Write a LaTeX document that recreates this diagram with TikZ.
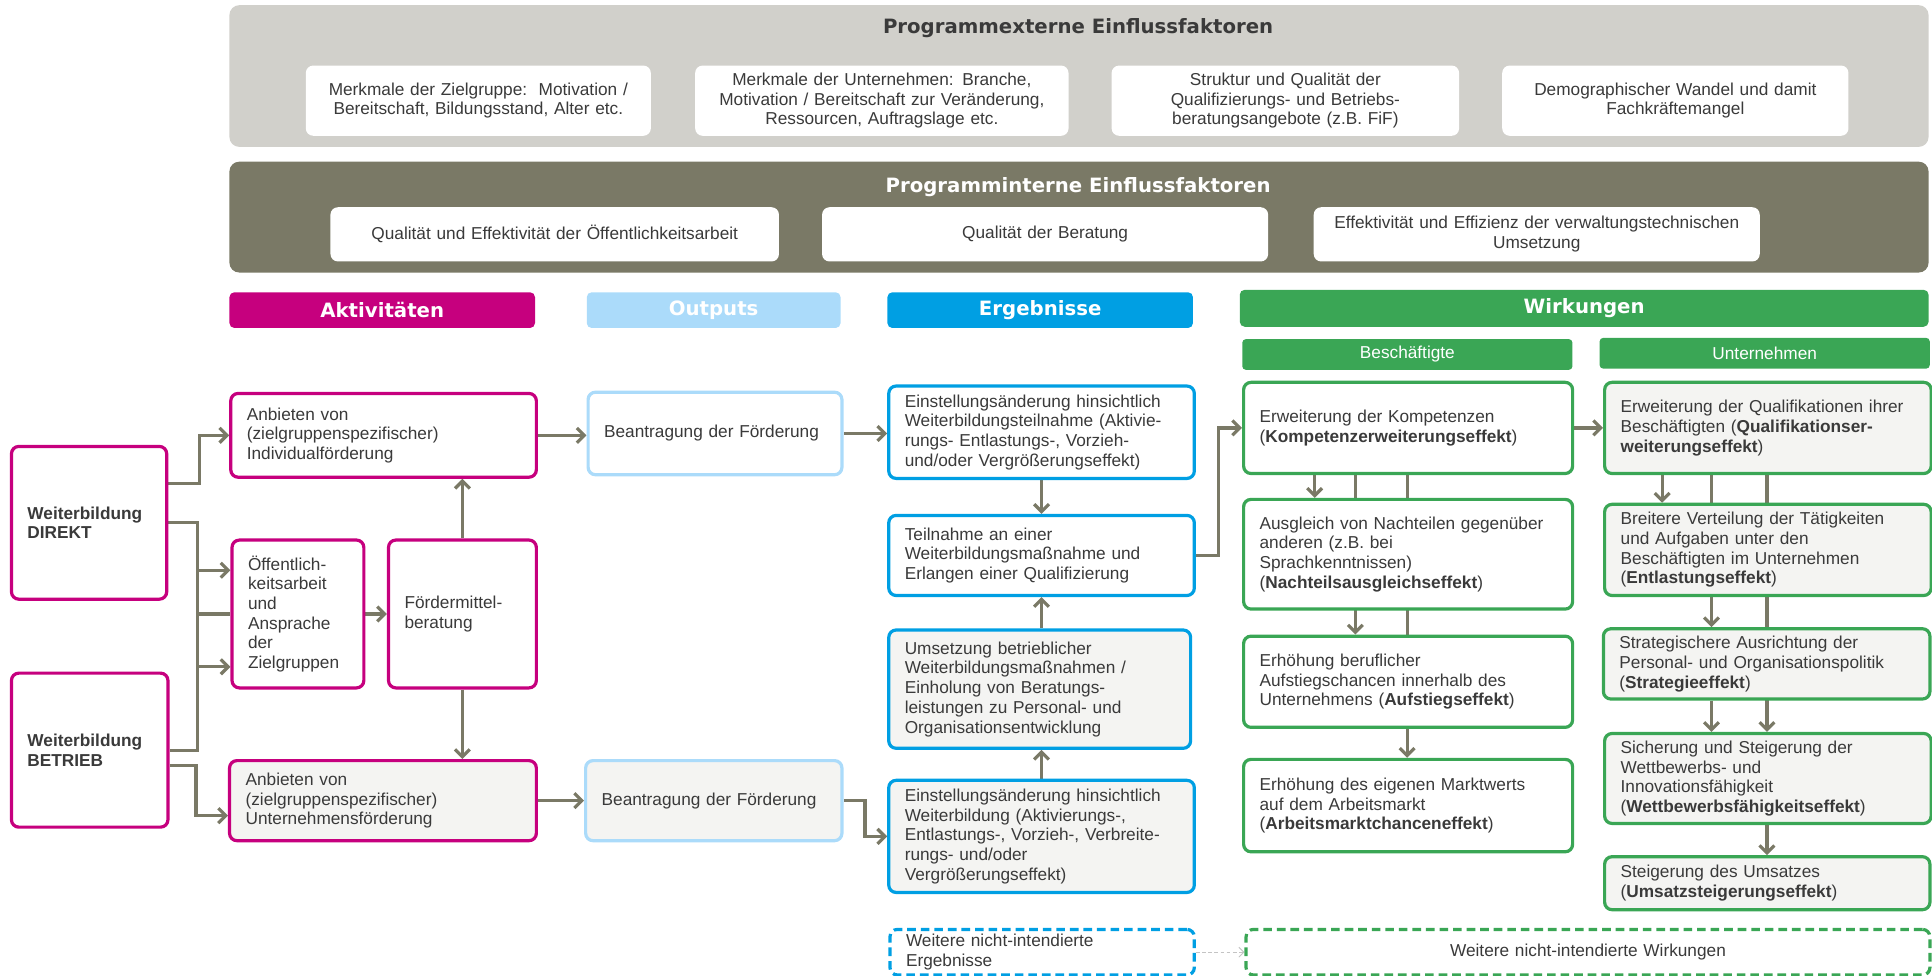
\documentclass[tikz,border=0pt]{standalone}
\usepackage{fontspec}
\setmainfont{Liberation Sans}
\newfontfamily\hdfont{DejaVu Sans}
\usetikzlibrary{arrows.meta,calc,backgrounds}
\definecolor{txt}{HTML}{3A3A3A}
\definecolor{mag}{HTML}{C6007E}
\definecolor{lblue}{HTML}{ABDBFA}
\definecolor{blu}{HTML}{009FE3}
\definecolor{grn}{HTML}{3AA655}
\definecolor{olv}{HTML}{7A7966}
\definecolor{bandA}{HTML}{D1D0CB}
\definecolor{lfill}{HTML}{F4F4F2}
\definecolor{dgray}{HTML}{C4C4C4}
\newcommand{\bx}[7]{%
  \pgfmathsetmacro{\myw}{#5-#3}%
  \pgfmathsetmacro{\myh}{#6-#4}%
  \pgfmathsetmacro{\mytw}{#5-#3-26}%
  \node[#2, anchor=north west, inner xsep=13pt, inner ysep=0pt, minimum width=\myw pt, minimum height=\myh pt, text width=\mytw pt] (#1) at (#3,#4) {#7};}
\tikzset{
  body/.style={font=\fontsize{14}{16}\selectfont, text=txt},
  bx/.style={body, draw, rounded corners=6pt, line width=2.6pt, fill=white, align=left},
  magbox/.style={bx, draw=mag},
  magboxg/.style={bx, draw=mag, fill=lfill},
  obox/.style={bx, draw=lblue},
  oboxg/.style={bx, draw=lblue, fill=lfill},
  ebox/.style={bx, draw=blu},
  eboxg/.style={bx, draw=blu, fill=lfill},
  wbox/.style={bx, draw=grn},
  wboxg/.style={bx, draw=grn, fill=lfill},
  dashbox/.style={bx, draw=#1, dash pattern=on 7pt off 4pt},
  wbox0/.style={body, fill=white, rounded corners=6pt, align=center},
  band/.style={fill=#1, rounded corners=8pt},
  hdr/.style={fill=#1, rounded corners=4pt, text=white, font=\hdfont\bfseries\fontsize{16}{18}\selectfont, align=center},
  subhdr/.style={fill=grn, rounded corners=3pt, text=white, font=\fontsize{14}{16}\selectfont, align=center},
  ttl/.style={font=\hdfont\bfseries\fontsize{16}{18}\selectfont, inner sep=0pt},
  arr/.style={draw=olv, line width=2.6pt, -{Straight Barb[length=6pt,width=12pt]}},
  ln/.style={draw=olv, line width=2.6pt},
  dasharr/.style={draw=dgray, line width=0.8pt, dash pattern=on 3pt off 2pt, -{Straight Barb[length=4pt,width=8pt]}},
}
\begin{document}
\begin{tikzpicture}[x=1pt,y=-1pt]
\useasboundingbox (0,0) rectangle (1568,792);
% external factors
\bx{ext}{band=bandA}{186}{4}{1565}{119}{}
\node[ttl, text=txt] (extT) at (875,23) {Programmexterne Einflussfaktoren};
\bx{b1}{wbox0}{248}{53}{528}{110}{Merkmale der Zielgruppe:\ \ Motivation /\\Bereitschaft, Bildungsstand, Alter etc.}
\bx{b2}{wbox0}{564}{53}{867}{110}{Merkmale der Unternehmen: Branche,\\Motivation / Bereitschaft zur Veränderung,\\Ressourcen, Auftragslage etc.}
\bx{b3}{wbox0}{902}{53}{1184}{110}{Struktur und Qualität der\\Qualifizierungs- und Betriebs-\\beratungsangebote (z.B. FiF)}
\bx{b4}{wbox0}{1219}{53}{1500}{110}{Demographischer Wandel und damit\\Fachkräftemangel}
% internal factors
\bx{int}{band=olv}{186}{131}{1565}{221}{}
\node[ttl, text=white] (intT) at (875,152) {Programminterne Einflussfaktoren};
\bx{c1}{wbox0}{268}{168}{632}{212}{Qualität und Effektivität der Öffentlichkeitsarbeit}
\bx{c2}{wbox0}{667}{168}{1029}{212}{Qualität der Beratung}
\bx{c3}{wbox0}{1066}{168}{1428}{212}{Effektivität und Effizienz der verwaltungstechnischen\\Umsetzung}
% headers
\bx{hA}{hdr=mag}{186}{237}{434}{266}{Aktivitäten}
\bx{hO}{hdr=lblue}{476}{237}{682}{266}{Outputs}
\bx{hE}{hdr=blu}{720}{237}{968}{266}{Ergebnisse}
\bx{hW}{hdr=grn}{1006}{235}{1565}{265}{Wirkungen}
\bx{hB}{subhdr}{1008}{275}{1276}{300}{Beschäftigte}
\bx{hU}{subhdr}{1298}{274}{1566}{299}{Unternehmen}
% left
\bx{DIR}{magbox}{8}{361}{134}{485}{\textbf{Weiterbildung}\\\textbf{DIREKT}}
\bx{BET}{magbox}{8}{545}{135}{670}{\textbf{Weiterbildung}\\\textbf{BETRIEB}}
% activities
\bx{A1}{magbox}{186}{318}{434}{386}{Anbieten von\\(zielgruppenspezifischer)\\Individualförderung}
\bx{A2}{magbox}{187}{437}{294}{557}{Öffentlich-\\keitsarbeit\\und\\Ansprache\\der\\Zielgruppen}
\bx{A3}{magbox}{314}{437}{434}{557}{Fördermittel-\\beratung}
\bx{A4}{magboxg}{185}{616}{434}{681}{Anbieten von\\(zielgruppenspezifischer)\\Unternehmensförderung}
% outputs
\bx{O1}{obox}{476}{317}{682}{384}{Beantragung der Förderung}
\bx{O2}{oboxg}{474}{616}{682}{681}{Beantragung der Förderung}
% results
\bx{E1}{ebox}{720}{312}{968}{387}{Einstellungsänderung hinsichtlich\\Weiterbildungsteilnahme (Aktivie-\\rungs- Entlastungs-, Vorzieh-\\und/oder Vergrößerungseffekt)}
\bx{E2}{ebox}{720}{417}{968}{482}{Teilnahme an einer\\Weiterbildungsmaßnahme und\\Erlangen einer Qualifizierung}
\bx{E3}{eboxg}{720}{510}{965}{606}{Umsetzung betrieblicher\\Weiterbildungsmaßnahmen /\\Einholung von Beratungs-\\leistungen zu Personal- und\\Organisationsentwicklung}
\bx{E4}{eboxg}{720}{632}{968}{723}{Einstellungsänderung hinsichtlich\\Weiterbildung (Aktivierungs-,\\Entlastungs-, Vorzieh-, Verbreite-\\rungs- und/oder\\Vergrößerungseffekt)}
\bx{E5}{dashbox=blu}{721}{753}{968}{790}{Weitere nicht-intendierte\\Ergebnisse}
% impacts - employees
\bx{W1}{wbox}{1008}{309}{1275}{383}{Erweiterung der Kompetenzen\\(\textbf{Kompetenzerweiterungseffekt})}
\bx{W2}{wbox}{1008}{404}{1275}{493}{Ausgleich von Nachteilen gegenüber\\anderen (z.B. bei\\Sprachkenntnissen)\\(\textbf{Nachteilsausgleichseffekt})}
\bx{W3}{wbox}{1008}{515}{1275}{589}{Erhöhung beruflicher\\Aufstiegschancen innerhalb des\\Unternehmens (\textbf{Aufstiegseffekt})}
\bx{W4}{wbox}{1008}{615}{1275}{690}{Erhöhung des eigenen Marktwerts\\auf dem Arbeitsmarkt\\(\textbf{Arbeitsmarktchanceneffekt})}
\bx{W5}{dashbox=grn, align=center}{1010}{753}{1565}{790}{Weitere nicht-intendierte Wirkungen}
% impacts - companies
\bx{U1}{wboxg}{1301}{309}{1566}{383}{Erweiterung der Qualifikationen ihrer\\Beschäftigten (\textbf{Qualifikationser-}\\\textbf{weiterungseffekt})}
\bx{U2}{wboxg}{1301}{408}{1566}{482}{Breitere Verteilung der Tätigkeiten\\und Aufgaben unter den\\Beschäftigten im Unternehmen\\(\textbf{Entlastungseffekt})}
\bx{U3}{wboxg}{1300}{509}{1565}{566}{Strategischere Ausrichtung der\\Personal- und Organisationspolitik\\(\textbf{Strategieeffekt})}
\bx{U4}{wboxg}{1301}{594}{1566}{667}{Sicherung und Steigerung der\\Wettbewerbs- und\\Innovationsfähigkeit\\(\textbf{Wettbewerbsfähigkeitseffekt})}
\bx{U5}{wboxg}{1301}{694}{1565}{737}{Steigerung des Umsatzes\\(\textbf{Umsatzsteigerungseffekt})}
% helper coordinates
\coordinate (bus) at (160,0);
\coordinate (busA) at (162,0);
\coordinate (busB) at (159,0);
\coordinate (oe) at (702,0);
\coordinate (ew) at (989,0);
\coordinate (wa) at (1067,0);
\coordinate (wb) at (1100,0);
\coordinate (wc) at (1142,0);
\coordinate (ua) at (1349,0);
\coordinate (ub) at (1389,0);
\coordinate (uc) at (1434,0);
\coordinate (dirA) at ($(DIR.north east)!0.25!(DIR.south east)$);
\coordinate (betB) at ($(BET.north east)!0.6!(BET.south east)$);
\coordinate (a2a) at ($(A2.north west)!0.21!(A2.south west)$);
\coordinate (a2c) at ($(A2.north west)!0.85!(A2.south west)$);
\coordinate (a4in) at ($(A4.north west)!0.68!(A4.south west)$);
\begin{pgfonlayer}{background}
\draw[arr] (dirA) -- (dirA -| busA) |- (A1.west);
\draw[ln] (DIR.east) -- (DIR.east -| bus) -- (BET.east -| bus) -- (BET.east);
\draw[arr] (a2a -| bus) -- (a2a);
\draw[ln] (A2.west -| bus) -- (A2.west);
\draw[arr] (a2c -| bus) -- (a2c);
\draw[arr] (betB) -- (betB -| busB) |- (a4in);
\draw[arr] (A2.east) -- (A3.west);
\draw[arr] (A3.north) -- (A3.north |- A1.south);
\draw[arr] (A3.south) -- (A3.south |- A4.north);
\draw[arr] (A1.east) -- (A1.east -| O1.west);
\draw[arr] (A4.east) -- (A4.east -| O2.west);
\draw[arr] (O1.east) -- (O1.east -| E1.west);
\draw[arr] (O2.east) -- (O2.east -| oe) |- (E4.west);
\draw[arr] (E1.south) -- (E1.south |- E2.north);
\draw[arr] (E2.south |- E3.north) -- (E2.south);
\draw[arr] (E2.south |- E4.north) -- (E2.south |- E3.south);
\draw[arr] (E2.east) -- (E2.east -| ew) |- (W1.west);
\draw[arr] (W1.east) -- (W1.east -| U1.west);
\draw[arr] (W1.south -| wa) -- (W2.north -| wa);
\draw[arr] (W1.south -| wb) -- (W3.north -| wb);
\draw[arr] (W1.south -| wc) -- (W4.north -| wc);
\draw[arr] (U1.south -| ua) -- (U2.north -| ua);
\draw[arr] (U1.south -| ub) -- (U3.north -| ub);
\draw[arr] (U1.south -| uc) -- (U4.north -| uc);
\draw[arr] (U3.south -| ub) -- (U4.north -| ub);
\draw[arr] (U4.south -| uc) -- (U5.north -| uc);
\draw[dasharr] (E5.east) -- (W5.west);
\end{pgfonlayer}
\end{tikzpicture}
\end{document}
